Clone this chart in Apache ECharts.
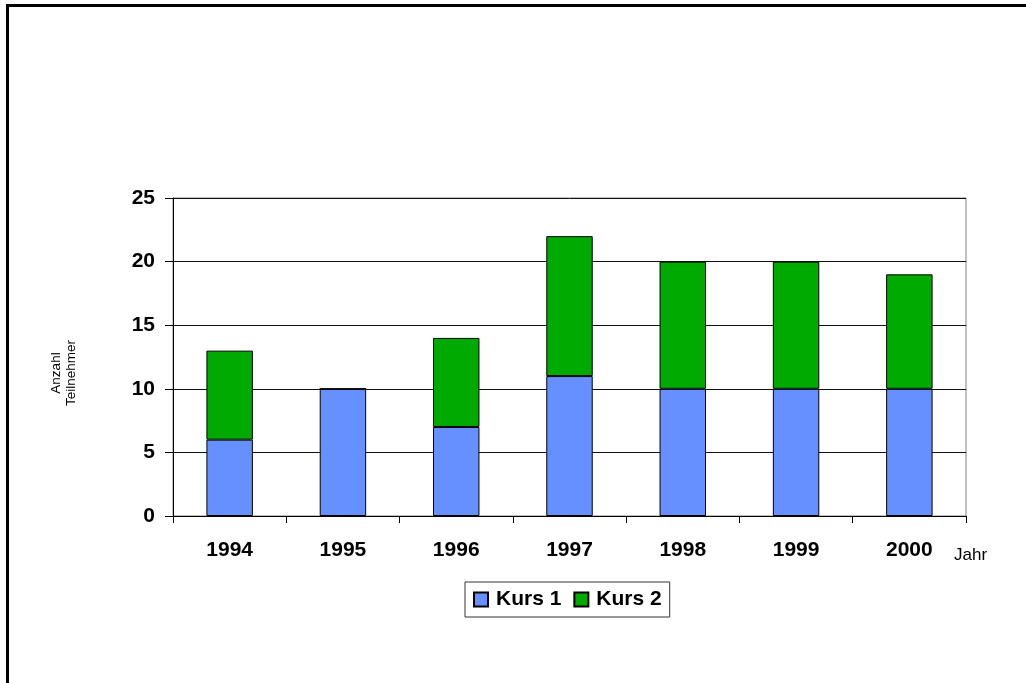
<!DOCTYPE html>
<html>
<head>
<meta charset="utf-8">
<script src="https://cdn.jsdelivr.net/npm/echarts@6/dist/echarts.min.js"></script>
<style>
    html, body { margin: 0; padding: 0; background: #fff; }
    #chart { width: 1026px; height: 683px; }
    /* Rahmen oben/links wie im Original */
    .frame {
        position: absolute;
        left: 6px;
        top: 4px;
        width: 1030px;
        height: 700px;
        border-left: 3px solid #000;
        border-top: 3px solid #000;
        pointer-events: none;
    }
</style>
</head>
<body>
<div class="frame"></div>
<div id="chart"></div>
<script>
let years = ['1994', '1995', '1996', '1997', '1998', '1999', '2000'];
let kurs1 = [6, 10, 7, 11, 10, 10, 10];
let kurs2 = [7, 0, 7, 11, 10, 10, 9];
let y_ticks = [0, 5, 10, 15, 20, 25];

let myChart = echarts.init(document.getElementById('chart'));

let font = 'Liberation Sans, Arial, sans-serif';

let option = {
    animation: false,
    grid: {
        left: 173,
        top: 198,
        right: 60,
        bottom: 167,
        show: true,
        borderColor: '#808080',
        borderWidth: 1
    },
    legend: {
        data: ['Kurs 1', 'Kurs 2'],
        left: 465,
        top: 582,
        icon: 'rect',
        itemWidth: 14,
        itemHeight: 14,
        itemGap: 12,
        padding: [7, 8, 7, 8],
        borderColor: '#333',
        borderWidth: 1,
        textStyle: {
            fontFamily: font,
            fontWeight: 'bold',
            fontSize: 21,
            color: '#000',
            padding: [0, 0, 0, 3]
        }
    },
    xAxis: {
        type: 'category',
        data: years,
        axisLine: { lineStyle: { color: '#000', width: 1 } },
        axisTick: { show: true, length: 7, lineStyle: { color: '#000' } },
        axisLabel: {
            margin: 24,
            fontFamily: font,
            fontWeight: 'bold',
            fontSize: 21,
            color: '#000'
        }
    },
    yAxis: {
        type: 'value',
        min: y_ticks[0],
        max: y_ticks[y_ticks.length - 1],
        interval: 5,
        axisLine: { show: true, lineStyle: { color: '#000', width: 1 } },
        axisTick: { show: true, length: 8, lineStyle: { color: '#000' } },
        axisLabel: {
            margin: 18,
            fontFamily: font,
            fontWeight: 'bold',
            fontSize: 21,
            color: '#000'
        },
        splitLine: { lineStyle: { color: '#111', width: 1 } }
    },
    graphic: [
        {
            type: 'text',
            left: 954,
            top: 547,
            style: {
                text: 'Jahr',
                font: '17px ' + font,
                fill: '#000'
            }
        },
        {
            type: 'text',
            x: 64,
            y: 373,
            rotation: Math.PI / 2,
            style: {
                text: 'Anzahl\nTeilnehmer',
                font: '13.5px ' + font,
                fill: '#000',
                align: 'center',
                verticalAlign: 'middle',
                lineHeight: 14.5
            }
        }
    ],
    series: [
        {
            name: 'Kurs 1',
            type: 'bar',
            stack: 'total',
            data: kurs1,
            barWidth: '41%',
            itemStyle: { color: '#6690ff', borderColor: '#000', borderWidth: 1 }
        },
        {
            name: 'Kurs 2',
            type: 'bar',
            stack: 'total',
            data: kurs2,
            barWidth: '41%',
            itemStyle: { color: '#00aa00', borderColor: '#000', borderWidth: 1 }
        }
    ]
};

myChart.setOption(option);
</script>
</body>
</html>
